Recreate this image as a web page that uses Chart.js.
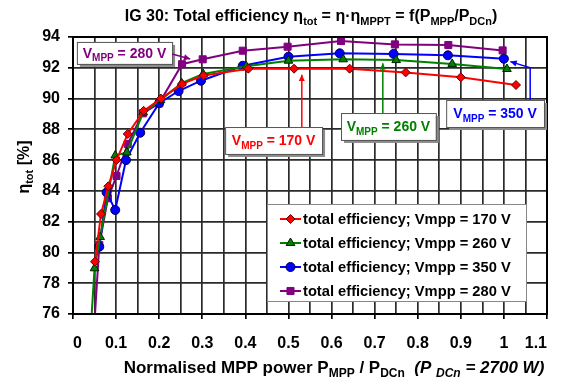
<!DOCTYPE html>
<html lang="en">
<head>
<meta charset="UTF-8">
<title>IG 30: Total efficiency</title>
<script src="https://cdn.jsdelivr.net/npm/chart.js"></script>
<style>
    body { margin: 0; background: #fff; }
    canvas { display: block; }
</style>
</head>
<body>
<canvas id="effChart" width="565" height="385"></canvas>
<script>
    // Vmpp = 170 V
    const x170 = [0.051, 0.065, 0.082, 0.101, 0.127, 0.164, 0.204, 0.253, 0.303, 0.407, 0.513, 0.642, 0.772, 0.900, 1.028];
    const y170 = [79.4, 82.5, 84.3, 86.0, 87.7, 89.2, 90.0, 90.95, 91.5, 91.94, 91.94, 91.94, 91.7, 91.38, 90.88];
    // Vmpp = 260 V
    const x260 = [0.040, 0.050, 0.063, 0.098, 0.125, 0.163, 0.203, 0.252, 0.302, 0.402, 0.500, 0.627, 0.750, 0.880, 1.007];
    const y260 = [74.5, 78.97, 81.0, 86.3, 86.5, 89.1, 89.9, 91.0, 91.6, 92.1, 92.46, 92.55, 92.5, 92.25, 91.92];
    // Vmpp = 350 V
    const x350 = [0.061, 0.078, 0.098, 0.123, 0.156, 0.200, 0.245, 0.297, 0.394, 0.500, 0.619, 0.744, 0.870, 1.000];
    const y350 = [80.37, 83.9, 82.76, 86.0, 87.78, 89.7, 90.49, 91.16, 92.13, 92.72, 92.94, 92.9, 92.81, 92.59];
    // Vmpp = 280 V
    const x280 = [0.050, 0.061, 0.081, 0.101, 0.127, 0.162, 0.200, 0.253, 0.301, 0.394, 0.498, 0.622, 0.747, 0.871, 0.997];
    const y280 = [75.5, 80.48, 83.52, 84.97, 87.05, 89.04, 89.69, 92.23, 92.55, 93.11, 93.37, 93.74, 93.52, 93.48, 93.13];

    const seriesLabels = [
        'total efficiency; Vmpp = 170 V',
        'total efficiency; Vmpp = 260 V',
        'total efficiency; Vmpp = 350 V',
        'total efficiency; Vmpp = 280 V'
    ];
    const xTickLabels = ['0', '0.1', '0.2', '0.3', '0.4', '0.5', '0.6', '0.7', '0.8', '0.9', '1', '1.1'];
    const yTickLabels = ['76', '78', '80', '82', '84', '86', '88', '90', '92', '94'];

    const FONT = 'Arial, "Liberation Sans", sans-serif';

    // text callouts, placed in data units
    const callouts = [
        { volt: '280 V', color: '#800080', box: [0.009, 0.230, 93.68, 92.25], arrow: [[0.230, 92.9], [0.272, 92.57]] },
        { volt: '170 V', color: '#ff0000', box: [0.353, 0.578, 88.15, 86.40], arrow: [[0.531, 88.15], [0.531, 91.55]] },
        { volt: '260 V', color: '#008000', box: [0.622, 0.842, 89.06, 87.31], arrow: [[0.719, 89.06], [0.719, 92.3]] },
        { volt: '350 V', color: '#0000ff', box: [0.866, 1.093, 89.91, 88.15], arrow: [[1.061, 89.91], [1.061, 92.0], [1.015, 92.4]] }
    ];

    function pts(xs, ys) {
        return xs.map((x, i) => ({ x: x, y: ys[i] }));
    }

    // draw a run of text parts: [text, subscript, italic]
    function drawRich(ctx, parts, x, y, size, color, align) {
        const subSize = Math.round(size * 0.68);
        const fontFor = p => (p[2] ? 'italic ' : '') + 'bold ' + (p[1] ? subSize : size) + 'px ' + FONT;
        let w = 0;
        parts.forEach(p => { ctx.font = fontFor(p); w += ctx.measureText(p[0]).width; });
        let cx = align === 'center' ? x - w / 2 : x;
        ctx.fillStyle = color;
        ctx.textAlign = 'left';
        ctx.textBaseline = 'alphabetic';
        parts.forEach(p => {
            ctx.font = fontFor(p);
            ctx.fillText(p[0], cx, p[1] ? y + size * 0.22 : y);
            cx += ctx.measureText(p[0]).width;
        });
    }

    function arrowHead(ctx, x1, y1, x2, y2) {
        const a = Math.atan2(y2 - y1, x2 - x1);
        ctx.beginPath();
        ctx.moveTo(x2, y2);
        ctx.lineTo(x2 - 7 * Math.cos(a - 0.45), y2 - 7 * Math.sin(a - 0.45));
        ctx.lineTo(x2 - 7 * Math.cos(a + 0.45), y2 - 7 * Math.sin(a + 0.45));
        ctx.closePath();
        ctx.fill();
    }

    const decorPlugin = {
        id: 'decor',
        afterDatasetsDraw(chart) {
            const ctx = chart.ctx;
            const xs = chart.scales.x, ys = chart.scales.y;
            const area = chart.chartArea;
            ctx.save();

            // plot frame
            ctx.strokeStyle = '#000';
            ctx.lineWidth = 2;
            ctx.strokeRect(area.left, area.top, area.right - area.left, area.bottom - area.top);

            // callouts
            callouts.forEach(c => {
                const l = xs.getPixelForValue(c.box[0]), r = xs.getPixelForValue(c.box[1]);
                const t = ys.getPixelForValue(c.box[2]), b = ys.getPixelForValue(c.box[3]);
                ctx.fillStyle = '#8c8c8c';
                ctx.fillRect(l + 3, t + 3, r - l, b - t);
                ctx.fillStyle = '#fff';
                ctx.fillRect(l, t, r - l, b - t);
                ctx.strokeStyle = '#555';
                ctx.lineWidth = 1;
                ctx.strokeRect(l + 0.5, t + 0.5, r - l, b - t);
                drawRich(ctx, [['V'], ['MPP', true], [' = ' + c.volt]], (l + r) / 2, (t + b) / 2 + 5, 14, c.color, 'center');

                const p = c.arrow.map(a => [xs.getPixelForValue(a[0]), ys.getPixelForValue(a[1])]);
                ctx.strokeStyle = c.color;
                ctx.fillStyle = c.color;
                ctx.lineWidth = 1.5;
                ctx.beginPath();
                ctx.moveTo(p[0][0], p[0][1]);
                p.slice(1).forEach(q => ctx.lineTo(q[0], q[1]));
                ctx.stroke();
                const n = p.length;
                arrowHead(ctx, p[n - 2][0], p[n - 2][1], p[n - 1][0], p[n - 1][1]);
            });

            // legend box
            const lx = 267, ly = 204, lw = 259, lh = 97;
            ctx.fillStyle = '#fff';
            ctx.fillRect(lx, ly, lw, lh);
            ctx.strokeStyle = '#888';
            ctx.lineWidth = 1;
            ctx.strokeRect(lx + 0.5, ly + 0.5, lw, lh);
            chart.data.datasets.forEach((ds, i) => {
                const cy = 219 + i * 24;
                ctx.strokeStyle = ds.borderColor;
                ctx.lineWidth = 2;
                ctx.beginPath();
                ctx.moveTo(280, cy);
                ctx.lineTo(301, cy);
                ctx.stroke();
                ctx.fillStyle = ds.pointBackgroundColor;
                ctx.strokeStyle = ds.pointBorderColor;
                ctx.lineWidth = 1;
                Chart.helpers.drawPoint(ctx, { pointStyle: ds.pointStyle, radius: ds.pointRadius, rotation: 0, borderWidth: 1 }, 290.5, cy);
                ctx.fillStyle = '#000';
                ctx.font = 'bold 14.7px ' + FONT;
                ctx.textAlign = 'left';
                ctx.textBaseline = 'middle';
                ctx.fillText(ds.label, 303, cy + 1);
            });

            ctx.restore();
        },
        afterDraw(chart) {
            const ctx = chart.ctx;
            ctx.save();
            drawRich(ctx, [['IG 30: Total efficiency η'], ['tot', true], [' = η·η'], ['MPPT', true],
                [' = f(P'], ['MPP', true], ['/P'], ['DCn', true], [')']], 311, 21, 16, '#000', 'center');
            drawRich(ctx, [['Normalised MPP power P'], ['MPP', true], [' / P'], ['DCn', true], ['  '],
                ['(P ', false, true], ['DCn', true, true], [' = 2700 W)', false, true]], 334, 373, 17, '#000', 'center');
            ctx.translate(29, 167);
            ctx.rotate(-Math.PI / 2);
            drawRich(ctx, [['η'], ['tot', true], [' [%]']], 0, 0, 16, '#000', 'center');
            ctx.restore();
        }
    };

    const tickFont = { family: FONT, size: 16, weight: 'bold' };

    const ctx = document.getElementById('effChart').getContext('2d');
    const effChart = new Chart(ctx, {
        type: 'line',
        data: {
            datasets: [
                { label: seriesLabels[0], data: pts(x170, y170), borderColor: '#ff0000', pointStyle: 'rectRot', pointRadius: 4.5,
                  pointBackgroundColor: '#ff0000', pointBorderColor: '#600000' },
                { label: seriesLabels[1], data: pts(x260, y260), borderColor: '#008000', pointStyle: 'triangle', pointRadius: 5,
                  pointBackgroundColor: '#008000', pointBorderColor: '#002000' },
                { label: seriesLabels[2], data: pts(x350, y350), borderColor: '#0000ff', pointStyle: 'circle', pointRadius: 4.5,
                  pointBackgroundColor: '#0000ff', pointBorderColor: '#000050' },
                { label: seriesLabels[3], data: pts(x280, y280), borderColor: '#800080', pointStyle: 'rect', pointRadius: 5,
                  pointBackgroundColor: '#800080', pointBorderColor: '#800080' }
            ]
        },
        options: {
            responsive: false,
            animation: false,
            devicePixelRatio: 1,
            layout: { padding: { left: 0, top: 37, right: 18, bottom: 0 } },
            elements: {
                line: { borderWidth: 2, tension: 0 },
                point: { borderWidth: 1 }
            },
            plugins: {
                legend: { display: false },
                tooltip: { enabled: false }
            },
            scales: {
                x: {
                    type: 'linear',
                    min: 0,
                    max: 1.1,
                    ticks: {
                        stepSize: 0.05,
                        autoSkip: false,
                        maxRotation: 0,
                        align: 'inner',
                        padding: 15,
                        color: '#000',
                        font: tickFont,
                        callback: v => {
                            const k = Math.round(v * 10);
                            return Math.abs(v * 10 - k) < 1e-6 ? xTickLabels[k] : '';
                        }
                    },
                    grid: {
                        color: '#2a2a2a',
                        lineWidth: 1.7,
                        tickLength: 5,
                        tickColor: c => {
                            const v = c.tick ? c.tick.value : 0;
                            return Math.abs(v * 10 - Math.round(v * 10)) < 1e-6 ? '#000' : 'rgba(0,0,0,0)';
                        }
                    },
                    border: { color: '#000', width: 2 },
                    afterFit: s => { s.height = 71; }
                },
                y: {
                    min: 76,
                    max: 94,
                    ticks: {
                        stepSize: 1,
                        padding: 8,
                        color: '#000',
                        font: tickFont,
                        callback: v => (v % 2 === 0 ? yTickLabels[(v - 76) / 2] : '')
                    },
                    grid: {
                        color: '#2a2a2a',
                        lineWidth: 1.7,
                        tickLength: 5,
                        tickColor: c => (c.tick && c.tick.value % 2 === 0 ? '#000' : 'rgba(0,0,0,0)')
                    },
                    border: { color: '#000', width: 2 },
                    afterFit: s => { s.width = 73; }
                }
            }
        },
        plugins: [decorPlugin]
    });
</script>
</body>
</html>
